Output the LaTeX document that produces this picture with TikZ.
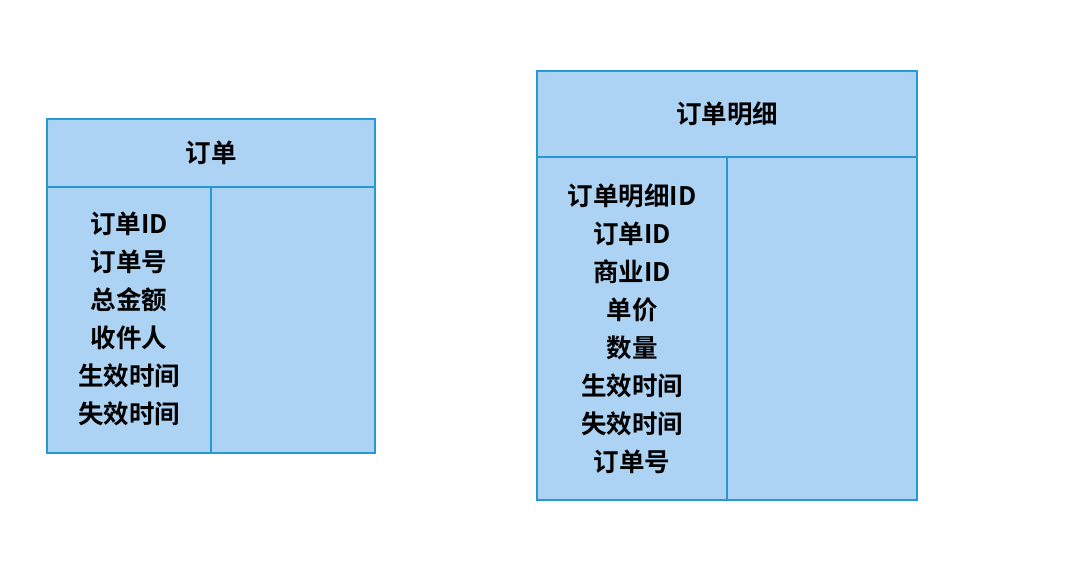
\documentclass[tikz,border=0pt]{standalone}
\usepackage{fontspec}
\setmainfont{Noto Sans CJK SC}[BoldFont={* Bold}]
\definecolor{cellfill}{RGB}{172,211,244}
\definecolor{cellline}{RGB}{40,152,212}
\begin{document}
\begin{tikzpicture}[x=1pt,y=-1pt,
  cell/.style={draw=cellline,fill=cellfill,line width=1.3pt},
  lbl/.style={font=\fontsize{25.5}{30}\selectfont\bfseries,text=black,inner sep=0pt,anchor=center}]
\useasboundingbox (0,0) rectangle (1068,562);
\fill[white] (0,0) rectangle (1068,562);
% left table
\draw[cell] (47,119) rectangle (375,187);
\draw[cell] (47,187) rectangle (211,453);
\draw[cell] (211,187) rectangle (375,453);
\node[lbl] (t1) at (211,153) {订单};
\node[lbl] (a1) at (129,224) {订单ID};
\node[lbl] (a2) at (129,262) {订单号};
\node[lbl] (a3) at (129,300) {总金额};
\node[lbl] (a4) at (129,338) {收件人};
\node[lbl] (a5) at (129,376) {生效时间};
\node[lbl] (a6) at (129,414) {失效时间};
% right table
\draw[cell] (537,71) rectangle (917,157);
\draw[cell] (537,157) rectangle (727,500);
\draw[cell] (727,157) rectangle (917,500);
\node[lbl] (t2) at (727,114) {订单明细};
\node[lbl] (b1) at (632,196) {订单明细ID};
\node[lbl] (b2) at (632,234) {订单ID};
\node[lbl] (b3) at (632,272) {商业ID};
\node[lbl] (b4) at (632,310) {单价};
\node[lbl] (b5) at (632,348) {数量};
\node[lbl] (b6) at (632,386) {生效时间};
\node[lbl] (b7) at (632,424) {失效时间};
\node[lbl] (b8) at (632,462) {订单号};
\end{tikzpicture}
\end{document}
